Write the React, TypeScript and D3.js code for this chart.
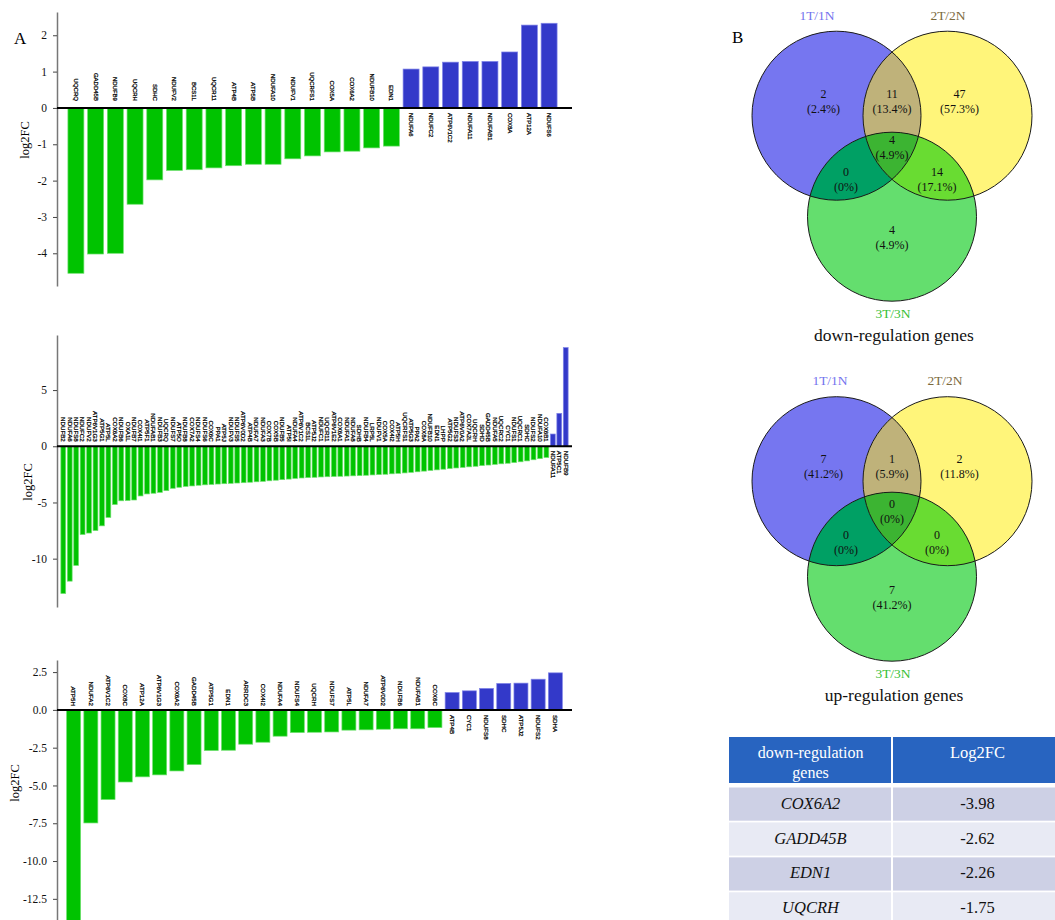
import * as d3 from 'd3';
import { useEffect, useRef } from 'react';

// panel A, top: 1T/1N
const topGenes = ['UQCRQ', 'GADD45B', 'NDUFB9', 'UQCRH', 'SDHC', 'NDUFV2', 'BCS1L', 'UQCR11', 'ATP4B', 'ATP5B', 'NDUFA10', 'NDUFV1', 'UQCRFS1', 'COX5A', 'COX6A2', 'NDUFB10', 'EDN1', 'NDUFA6', 'NDUFC2', 'ATP6V1C2', 'NDUFA11', 'NDUFAB1', 'COX8A', 'ATP12A', 'NDUFS6'];
const topValues = [-4.55, -4.02, -4.0, -2.65, -1.98, -1.72, -1.7, -1.65, -1.59, -1.55, -1.55, -1.4, -1.32, -1.21, -1.19, -1.1, -1.05, 1.07, 1.13, 1.26, 1.28, 1.28, 1.54, 2.28, 2.33];
const topTicks = [2, 1, 0, -1, -2, -3, -4];

// panel A, middle: 2T/2N
const midGenes = ['NDUFB2', 'NDUFA6', 'NDUFS8', 'NDUFC2', 'NDUFV2', 'ATP6V1G3', 'ATP5G1', 'ATP5L', 'COX6A2', 'NDUFB6',
  'OXA1L', 'NDUFB7', 'COX4I1', 'ATP5F1', 'NDUFAB1', 'NDUFB3', 'UQCRQ', 'NDUFS7', 'ATP5O', 'NDUFB8',
  'COX7A2', 'NDUFS4', 'NDUFS6', 'COX6C', 'PPA1', 'ATP5J', 'NDUFV3', 'NDUFS5', 'ATP6V0D2', 'ATP4B',
  'NDUFA7', 'NDUFA3', 'COX7B', 'COX5B', 'NDUFB5', 'ATP5I', 'NDUFA4', 'ATP6V1C2', 'BCS1L', 'ATP5J2',
  'NDUFC1', 'UQCR11', 'ATP6V1E2', 'COX6A1', 'NDUFA1', 'NDUFA8', 'SDHB', 'NDUFB4', 'LRP5L', 'NDUFV1',
  'COX5A', 'COX4I2', 'ATP5H', 'UQCRFS1', 'ATP5G3', 'PPA2', 'COX8A', 'NDUFB10', 'EDN1', 'LHPP',
  'ATP5G2', 'NDUFS3', 'ATP6V0A2', 'COX7A2L', 'UQCRH', 'SDHD', 'GADD45B', 'NDUFA5', 'UQCRC2', 'CYC1',
  'NDUFS1', 'UQCRC1', 'SDHC', 'NDUFS2', 'NDUFA10', 'COX6B1',
  'NDUFA11', 'ATP5C1', 'NDUFB9'];
const midValues = [-13.1, -12.0, -10.6, -7.85, -7.72, -7.5, -7.08, -6.33, -5.18, -4.85,
  -4.83, -4.78, -4.42, -4.24, -4.18, -4.1, -3.95, -3.74, -3.65, -3.57,
  -3.53, -3.47, -3.43, -3.4, -3.36, -3.33, -3.3, -3.27, -3.24, -3.2,
  -3.16, -3.12, -3.07, -3.02, -2.97, -2.92, -2.86, -2.82, -2.79, -2.76,
  -2.73, -2.71, -2.69, -2.67, -2.65, -2.63, -2.61, -2.58, -2.55, -2.52,
  -2.49, -2.45, -2.41, -2.37, -2.32, -2.27, -2.21, -2.15, -2.1, -2.04,
  -1.98, -1.93, -1.88, -1.83, -1.78, -1.72, -1.67, -1.61, -1.56, -1.51,
  -1.45, -1.38, -1.3, -1.2, -1.1, -1.0,
  1.09, 2.93, 8.78];
const midTicks = [5, 0, -5, -10];

// panel A, bottom: 3T/3N
const botGenes = ['ATP5H', 'NDUFA2', 'ATP6V1C2', 'COX8C', 'ATP12A', 'ATP6V1G3', 'COX6A2', 'GADD45B', 'ATP5G1', 'EDN1', 'ARRDC3', 'COX4I2', 'NDUFA4', 'NDUFS4', 'UQCRH', 'NDUFS7', 'ATP5L', 'NDUFA7', 'ATP6V0D2', 'NDUFB6', 'NDUFAB1', 'COX6C', 'ATP4B', 'CYC1', 'NDUFS8', 'SDHC', 'ATP5J2', 'NDUFS2', 'SDHA'];
const botValues = [-14.6, -7.48, -5.93, -4.77, -4.43, -4.3, -4.04, -3.62, -2.69, -2.67, -2.27, -2.14, -1.74, -1.5, -1.48, -1.46, -1.34, -1.32, -1.28, -1.25, -1.25, -1.17, 1.15, 1.26, 1.42, 1.75, 1.77, 2.03, 2.45];
const botTicks = [2.5, 0, -2.5, -5, -7.5, -10, -12.5];

// panel B venn: order A, AB, B, ABC, AC, BC, C
const setNames = ['1T/1N', '2T/2N', '3T/3N'];
const downCounts = [2, 11, 47, 4, 0, 14, 4];
const upCounts = [7, 1, 2, 0, 0, 0, 7];

// table
const tableHeader = ['down-regulation genes', 'Log2FC'];
const tableGenes = ['COX6A2', 'GADD45B', 'EDN1', 'UQCRH'];
const tableValues = [-3.98, -2.62, -2.26, -1.75];

const GREEN = '#00c300';
const GREEN_EDGE = '#6ee06e';
const BLUE = '#3339c9';
const BLUE_EDGE = '#8185e8';
const SERIF = "'Liberation Serif', 'Times New Roman', serif";
const SANS = "'Liberation Sans', Arial, sans-serif";

interface Panel {
  genes: string[];
  values: number[];
  ticks: number[];
  fmt: (d: number) => string;
  domain: [number, number];
  yRange: [number, number];
  xRange: [number, number];
  padIn: number;
  padOut: number;
  font: number;
  gapNeg: number;
  gapPos: number;
  labelX: number;
  labelY: number;
}

const drawPanel = (svg: d3.Selection<SVGSVGElement, unknown, null, undefined>, p: Panel) => {
  const x = d3.scaleBand<number>().domain(d3.range(p.genes.length)).range(p.xRange).paddingInner(p.padIn).paddingOuter(p.padOut);
  const y = d3.scaleLinear().domain(p.domain).range(p.yRange);
  const g = svg.append('g');

  g.selectAll('rect')
    .data(p.values)
    .join('rect')
    .attr('x', (_, i) => x(i)!)
    .attr('y', d => y(Math.max(0, d)))
    .attr('width', x.bandwidth())
    .attr('height', d => Math.abs(y(d) - y(0)))
    .attr('fill', d => (d < 0 ? GREEN : BLUE))
    .attr('stroke', d => (d < 0 ? GREEN_EDGE : BLUE_EDGE))
    .attr('stroke-width', 0.7);

  g.selectAll('text.gene')
    .data(p.genes)
    .join('text')
    .attr('class', 'gene')
    .attr('transform', (_, i) => {
      const cx = x(i)! + x.bandwidth() / 2;
      const yy = p.values[i] < 0 ? y(0) - p.gapNeg : y(0) + p.gapPos;
      return `translate(${cx},${yy}) rotate(90)`;
    })
    .attr('text-anchor', (_, i) => (p.values[i] < 0 ? 'end' : 'start'))
    .attr('dy', '0.35em')
    .style('font', `${p.font}px ${SANS}`)
    .attr('fill', '#000')
    .attr('stroke', '#000')
    .attr('stroke-width', 0.25)
    .text(d => d);

  const ax = g.append('g')
    .attr('transform', `translate(${57},0)`)
    .call(d3.axisLeft(y).tickValues(p.ticks).tickFormat(d => p.fmt(d as number)).tickSize(4).tickSizeOuter(0).tickPadding(6));
  ax.select('.domain').attr('stroke', '#777').attr('stroke-width', 1.5);
  ax.selectAll('.tick line').attr('stroke', '#444');
  ax.selectAll('.tick text').style('font', `11.5px ${SERIF}`).attr('fill', '#111');

  g.append('line')
    .attr('x1', 57).attr('x2', 572)
    .attr('y1', y(0)).attr('y2', y(0))
    .attr('stroke', '#000').attr('stroke-width', 2);

  g.append('text')
    .attr('transform', `translate(${p.labelX},${p.labelY}) rotate(-90)`)
    .attr('text-anchor', 'middle')
    .style('font', `12.5px ${SERIF}`)
    .text('log2FC');
};

interface Venn {
  id: string;
  cx: number;
  cy: number;
  dy: number;
  counts: number[];
  nameX: number[];
  title: string;
}

const R = 84.5;
const HALF = 55.5;
const singleFill = ['#7676f0', '#fff57a', '#64de6e'];
const nameFill = ['#7373ee', '#7b6a3e', '#35c035'];

const drawVenn = (svg: d3.Selection<SVGSVGElement, unknown, null, undefined>, v: Venn) => {
  const c = [
    { x: v.cx - HALF, y: v.cy },
    { x: v.cx + HALF, y: v.cy },
    { x: v.cx, y: v.cy + v.dy },
  ];
  const defs = svg.append('defs');
  c.forEach((p, i) => {
    defs.append('clipPath').attr('id', `${v.id}${i}`)
      .append('circle').attr('cx', p.x).attr('cy', p.y).attr('r', R);
  });
  const g = svg.append('g');
  c.forEach((p, i) => {
    g.append('circle').attr('cx', p.x).attr('cy', p.y).attr('r', R).attr('fill', singleFill[i]);
  });
  const pairs: [number, number, string][] = [[0, 1, '#bfb27a'], [0, 2, '#00a064'], [1, 2, '#69dc32']];
  pairs.forEach(([a, b, col]) => {
    g.append('circle').attr('cx', c[a].x).attr('cy', c[a].y).attr('r', R)
      .attr('clip-path', `url(#${v.id}${b})`).attr('fill', col);
  });
  g.append('g').attr('clip-path', `url(#${v.id}2)`)
    .append('circle').attr('cx', c[0].x).attr('cy', c[0].y).attr('r', R)
    .attr('clip-path', `url(#${v.id}1)`).attr('fill', '#3cb432');
  c.forEach(p => {
    g.append('circle').attr('cx', p.x).attr('cy', p.y).attr('r', R)
      .attr('fill', 'none').attr('stroke', '#1a1a1a').attr('stroke-width', 1);
  });

  const total = d3.sum(v.counts);
  const pos = [
    [c[0].x - 13, v.cy - 22],
    [v.cx, v.cy - 22],
    [c[1].x + 12, v.cy - 22],
    [v.cx, v.cy + v.dy * 0.24],
    [v.cx - 46, v.cy + v.dy * 0.56],
    [v.cx + 45, v.cy + v.dy * 0.56],
    [v.cx, v.cy + v.dy + 13],
  ];
  v.counts.forEach((n, i) => {
    const pct = n === 0 ? '0%' : `${((n / total) * 100).toFixed(1)}%`;
    const t = g.append('text').attr('text-anchor', 'middle').style('font', `12px ${SERIF}`).attr('fill', '#111');
    t.append('tspan').attr('x', pos[i][0]).attr('y', pos[i][1]).attr('dominant-baseline', 'central').text(n);
    t.append('tspan').attr('x', pos[i][0]).attr('y', pos[i][1] + 15).attr('dominant-baseline', 'central').text(`(${pct})`);
  });

  const nameY = v.cy - 100.5;
  [0, 1].forEach(i => {
    g.append('text').attr('x', v.nameX[i]).attr('y', nameY).attr('text-anchor', 'middle')
      .attr('dominant-baseline', 'central').style('font', `13.5px ${SERIF}`).attr('fill', nameFill[i]).text(setNames[i]);
  });
  const c3y = v.cy + v.dy + 97;
  g.append('text').attr('x', v.cx + 1).attr('y', c3y).attr('text-anchor', 'middle')
    .attr('dominant-baseline', 'central').style('font', `13.5px ${SERIF}`).attr('fill', nameFill[2]).text(setNames[2]);
  g.append('text').attr('x', v.cx + 2).attr('y', c3y + 21).attr('text-anchor', 'middle')
    .attr('dominant-baseline', 'central').style('font', `17.5px ${SERIF}`).attr('fill', '#111').text(v.title);
};

const drawTable = (svg: d3.Selection<SVGSVGElement, unknown, null, undefined>) => {
  const g = svg.append('g');
  const x0 = 729, xm = 892, x1 = 1063;
  const headTop = 737, headH = 46;
  g.append('rect').attr('x', x0).attr('y', headTop).attr('width', xm - x0 - 1).attr('height', headH).attr('fill', '#2864c0');
  g.append('rect').attr('x', xm + 1).attr('y', headTop).attr('width', x1 - xm - 1).attr('height', headH).attr('fill', '#2864c0');
  const words = tableHeader[0].split(' ');
  g.append('text').attr('x', (x0 + xm) / 2).attr('y', 752).attr('text-anchor', 'middle').attr('dominant-baseline', 'central')
    .style('font', `16px ${SERIF}`).attr('fill', '#fff').text(words[0]);
  g.append('text').attr('x', (x0 + xm) / 2).attr('y', 772).attr('text-anchor', 'middle').attr('dominant-baseline', 'central')
    .style('font', `16px ${SERIF}`).attr('fill', '#fff').text(words[1]);
  g.append('text').attr('x', (xm + x1) / 2).attr('y', 752).attr('text-anchor', 'middle').attr('dominant-baseline', 'central')
    .style('font', `16.5px ${SERIF}`).attr('fill', '#fff').text(tableHeader[1]);

  const rowY = d3.scaleBand<number>().domain(d3.range(tableGenes.length)).range([787.5, 925.5]).paddingInner(0.05);
  tableGenes.forEach((gene, i) => {
    const fill = i % 2 === 0 ? '#cdd0e5' : '#e8eaf4';
    const yy = rowY(i)!;
    g.append('rect').attr('x', x0).attr('y', yy).attr('width', xm - x0 - 1).attr('height', rowY.bandwidth()).attr('fill', fill);
    g.append('rect').attr('x', xm + 1).attr('y', yy).attr('width', x1 - xm - 1).attr('height', rowY.bandwidth()).attr('fill', fill);
    g.append('text').attr('x', (x0 + xm) / 2).attr('y', yy + rowY.bandwidth() / 2 - 1).attr('text-anchor', 'middle')
      .attr('dominant-baseline', 'central').style('font', `italic 16.5px ${SERIF}`).attr('fill', '#111').text(gene);
    g.append('text').attr('x', (xm + x1) / 2).attr('y', yy + rowY.bandwidth() / 2 - 1).attr('text-anchor', 'middle')
      .attr('dominant-baseline', 'central').style('font', `16.5px ${SERIF}`).attr('fill', '#111').text(tableValues[i].toFixed(2));
  });
};

const App = () => {
  const ref = useRef<SVGSVGElement>(null);

  useEffect(() => {
    const svg = d3.select(ref.current!);
    svg.selectAll('*').remove();

    const intFmt = (d: number) => `${d}`;
    const oneFmt = (d: number) => d.toFixed(1);

    drawPanel(svg, {
      genes: topGenes, values: topValues, ticks: topTicks, fmt: intFmt,
      domain: [2.64, -4.9], yRange: [12, 286], xRange: [62, 563], padIn: 0.19, padOut: 0.3,
      font: 6, gapNeg: 7, gapPos: 5, labelX: 29, labelY: 140,
    });
    drawPanel(svg, {
      genes: midGenes, values: midValues, ticks: midTicks, fmt: intFmt,
      domain: [9.9, -14.3], yRange: [335, 607], xRange: [57, 572], padIn: 0.25, padOut: 0.6,
      font: 6.2, gapNeg: 4.5, gapPos: 4.5, labelX: 32, labelY: 482,
    });
    drawPanel(svg, {
      genes: botGenes, values: botValues, ticks: botTicks, fmt: oneFmt,
      domain: [3.3, -13.9], yRange: [660, 920], xRange: [57, 572], padIn: 0.186, padOut: 0.56,
      font: 6.2, gapNeg: 4, gapPos: 5, labelX: 19, labelY: 783,
    });

    svg.append('text').attr('x', 14).attr('y', 44).style('font', `17px ${SERIF}`).text('A');
    svg.append('text').attr('x', 732).attr('y', 43).style('font', `17px ${SERIF}`).text('B');

    drawVenn(svg, { id: 'dn', cx: 892, cy: 115.7, dy: 101, counts: downCounts, nameX: [817, 948], title: 'down-regulation genes' });
    drawVenn(svg, { id: 'up', cx: 892, cy: 481.2, dy: 95.5, counts: upCounts, nameX: [830, 945], title: 'up-regulation genes' });

    drawTable(svg);
  }, []);

  return (
    <>
      <style>{'body{margin:0}'}</style>
      <svg ref={ref} width={1055} height={920} style={{ display: 'block', background: '#fff' }} />
    </>
  );
};

export default App;
